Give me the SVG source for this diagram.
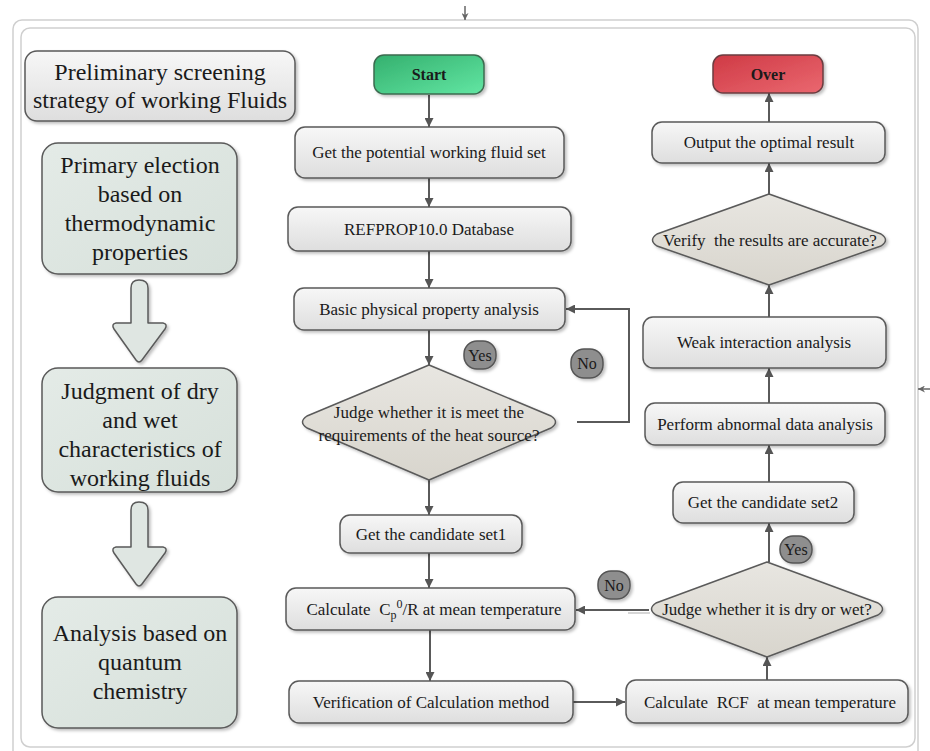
<svg xmlns="http://www.w3.org/2000/svg" width="930" height="751" viewBox="0 0 930 751">
<defs>
<linearGradient id="gBox" x1="0" y1="0" x2="0" y2="1"><stop offset="0" stop-color="#f7f7f7"/><stop offset="1" stop-color="#dedede"/></linearGradient>
<linearGradient id="gDia" x1="0" y1="0" x2="0" y2="1"><stop offset="0" stop-color="#e8e6e1"/><stop offset="1" stop-color="#d8d5cd"/></linearGradient>
<linearGradient id="gLeft" x1="0" y1="0" x2="1" y2="1"><stop offset="0" stop-color="#e4ebe7"/><stop offset="1" stop-color="#d6e0da"/></linearGradient>
<linearGradient id="gStart" x1="0" y1="0" x2="1" y2="1"><stop offset="0" stop-color="#34b06e"/><stop offset="1" stop-color="#62e6a3"/></linearGradient>
<linearGradient id="gOver" x1="0" y1="0" x2="1" y2="1"><stop offset="0" stop-color="#cf3a45"/><stop offset="1" stop-color="#ea6870"/></linearGradient>
<filter id="sh" x="-10%" y="-10%" width="125%" height="130%"><feDropShadow dx="2" dy="2" stdDeviation="1.5" flood-color="#000" flood-opacity="0.25"/></filter>
<marker id="ah" viewBox="0 0 10 10" refX="10" refY="5" markerWidth="9" markerHeight="9" markerUnits="userSpaceOnUse" orient="auto"><path d="M0,0 L10,5 L0,10 Z" fill="#555"/></marker>
<marker id="ahs" viewBox="0 0 10 10" refX="10" refY="5" markerWidth="7" markerHeight="7" markerUnits="userSpaceOnUse" orient="auto"><path d="M0,0 L10,5 L0,10 L3,5 Z" fill="#666"/></marker>
</defs>
<style>
.box{fill:url(#gBox);stroke:#5a5a5a;stroke-width:1.5;filter:url(#sh)}
.dia{fill:url(#gDia);stroke:#5a5a5a;stroke-width:1.5;stroke-linejoin:round;filter:url(#sh)}
.lbox{fill:url(#gLeft);stroke:#5a5a5a;stroke-width:1.5;filter:url(#sh)}
.harrow{fill:#dfe6e2;stroke:#5a5a5a;stroke-width:1.5;stroke-linejoin:round;filter:url(#sh)}
.bub{fill:#8e8e8e;stroke:#555;stroke-width:1.5;filter:url(#sh)}
.t{font-family:"Liberation Serif","Times New Roman",serif;fill:#1a1a1a;text-anchor:middle}
.m{font-size:17px}
.l{font-size:24px}
.b{font-size:16px;font-weight:bold}
.bt{font-size:16px}
.con{fill:none;stroke:#5a5a5a;stroke-width:2;marker-end:url(#ah)}
.frame{fill:none;stroke:#cfcfcf;stroke-width:1.5}
</style>
<rect width="930" height="751" fill="#ffffff"/>
<g id="frame">
<rect class="frame" x="13" y="20" width="905" height="740" rx="9"/>
<rect class="frame" x="21" y="28" width="894" height="719" rx="9"/>
<line x1="465" y1="6" x2="465" y2="20" stroke="#666" stroke-width="1.5" marker-end="url(#ahs)"/>
<line x1="930" y1="389" x2="918" y2="389" stroke="#666" stroke-width="1.5" marker-end="url(#ahs)"/>
</g>

<g id="title">
<rect class="box" x="25" y="51" width="270" height="70" rx="12"/>
<text class="t l" x="160" y="80">Preliminary screening</text>
<text class="t l" x="160" y="108">strategy of working Fluids</text>
</g>

<g id="primary">
<rect class="lbox" x="42" y="143" width="195" height="131" rx="16"/>
<text class="t l" x="140" y="173">Primary election</text>
<text class="t l" x="140" y="202">based on</text>
<text class="t l" x="140" y="231">thermodynamic</text>
<text class="t l" x="140" y="260">properties</text>
</g>
<g id="harrow1">
<path class="harrow" d="M131,288 Q131,280 139,280 Q148,280 148,288 L148,323 L163,323 Q168,324 165,329 L142,360 Q139,364 136,360 L114,329 Q111,324 116,323 L131,323 Z"/>
</g>
<g id="judgment">
<rect class="lbox" x="42" y="368" width="195" height="124" rx="16"/>
<text class="t l" x="140" y="399">Judgment of dry</text>
<text class="t l" x="140" y="428">and wet</text>
<text class="t l" x="140" y="457">characteristics of</text>
<text class="t l" x="140" y="486">working fluids</text>
</g>
<g id="harrow2">
<path class="harrow" d="M131,510 Q131,502 139,502 Q148,502 148,510 L148,547 L163,547 Q168,548 165,553 L142,584 Q139,588 136,584 L114,553 Q111,548 116,547 L131,547 Z"/>
</g>
<g id="analysis">
<rect class="lbox" x="42" y="597" width="195" height="131" rx="16"/>
<text class="t l" x="140" y="641">Analysis based on</text>
<text class="t l" x="140" y="670">quantum</text>
<text class="t l" x="140" y="699">chemistry</text>
</g>

<g id="connectors">
<line class="con" x1="429" y1="95" x2="429" y2="127"/>
<line class="con" x1="429" y1="178" x2="429" y2="207"/>
<line class="con" x1="429" y1="251" x2="429" y2="288"/>
<line class="con" x1="429" y1="330" x2="429" y2="365"/>
<polyline class="con" points="577,422 629,422 629,309 566,309"/>
<line class="con" x1="429" y1="480" x2="429" y2="515"/>
<line class="con" x1="429" y1="553" x2="429" y2="588"/>
<line class="con" x1="430" y1="630" x2="430" y2="681"/>
<line class="con" x1="573" y1="702" x2="625" y2="702"/>
<line class="con" x1="767" y1="680" x2="767" y2="657"/>
<line class="con" x1="649" y1="610" x2="576" y2="610"/>
<line x1="628" y1="613" x2="650" y2="613" stroke="#c8c8c8" stroke-width="1.5"/>
<line class="con" x1="769" y1="562" x2="769" y2="523"/>
<line class="con" x1="769" y1="482" x2="769" y2="445"/>
<line class="con" x1="769" y1="403" x2="769" y2="368"/>
<line class="con" x1="769" y1="317" x2="769" y2="285"/>
<line class="con" x1="769" y1="194" x2="769" y2="163"/>
<line class="con" x1="769" y1="122" x2="769" y2="93"/>
</g>

<g id="start">
<rect x="374" y="55" width="110" height="39" rx="10" fill="url(#gStart)" stroke="#3c6b50" stroke-width="1.5" filter="url(#sh)"/>
<text class="t b" x="429" y="80">Start</text>
</g>
<g id="getset">
<rect class="box" x="295" y="127" width="269" height="51" rx="10"/>
<text class="t m" x="429" y="158">Get the potential working fluid set</text>
</g>
<g id="refprop">
<rect class="box" x="288" y="207" width="283" height="44" rx="10"/>
<text class="t m" x="429" y="235">REFPROP10.0 Database</text>
</g>
<g id="basic">
<rect class="box" x="294" y="288" width="271" height="42" rx="10"/>
<text class="t m" x="429" y="315">Basic physical property analysis</text>
</g>
<g id="judge1">
<path class="dia" d="M429,365 L551,416 Q560,422 551,428 L429,480 L307,428 Q298,422 307,416 Z"/>
<text class="t m" x="429" y="418">Judge whether it is meet the</text>
<text class="t m" x="429" y="441">requirements of the heat source?</text>
</g>
<g id="yes1">
<rect class="bub" x="464" y="341" width="32" height="28" rx="13"/>
<text class="t bt" x="480" y="361">Yes</text>
</g>
<g id="no1">
<rect class="bub" x="571" y="349" width="32" height="29" rx="13"/>
<text class="t bt" x="587" y="369">No</text>
</g>
<g id="cand1">
<rect class="box" x="340" y="515" width="182" height="38" rx="10"/>
<text class="t m" x="431" y="540">Get the candidate set1</text>
</g>
<g id="calccp">
<rect class="box" x="286" y="588" width="289" height="42" rx="10"/>
<text class="t m" x="434" y="615" xml:space="preserve">Calculate  C<tspan font-size="12" dy="4">p</tspan><tspan font-size="12" dy="-11">0</tspan><tspan dy="7">/R at mean temperature</tspan></text>
</g>
<g id="verif">
<rect class="box" x="289" y="681" width="284" height="42" rx="10"/>
<text class="t m" x="431" y="708">Verification of Calculation method</text>
</g>

<g id="over">
<rect x="713" y="55" width="110" height="38" rx="10" fill="url(#gOver)" stroke="#6b3c40" stroke-width="1.5" filter="url(#sh)"/>
<text class="t b" x="768" y="80">Over</text>
</g>
<g id="output">
<rect class="box" x="652" y="122" width="233" height="41" rx="10"/>
<text class="t m" x="769" y="148">Output the optimal result</text>
</g>
<g id="verify">
<path class="dia" d="M769,194 L881,234 Q890,240 881,246 L769,285 L657,246 Q648,240 657,234 Z"/>
<text class="t m" x="770" y="246" xml:space="preserve">Verify  the results are accurate?</text>
</g>
<g id="weak">
<rect class="box" x="643" y="317" width="243" height="51" rx="10"/>
<text class="t m" x="764" y="348">Weak interaction analysis</text>
</g>
<g id="perform">
<rect class="box" x="645" y="403" width="240" height="42" rx="10"/>
<text class="t m" x="765" y="430">Perform abnormal data analysis</text>
</g>
<g id="cand2">
<rect class="box" x="673" y="482" width="181" height="41" rx="10"/>
<text class="t m" x="763" y="508">Get the candidate set2</text>
</g>
<g id="yes2">
<rect class="bub" x="780" y="536" width="32" height="27" rx="13"/>
<text class="t bt" x="796" y="555">Yes</text>
</g>
<g id="judge2">
<path class="dia" d="M767,562 L878,603 Q887,609 878,615 L767,657 L656,615 Q647,609 656,603 Z"/>
<text class="t m" x="767" y="615">Judge whether it is dry or wet?</text>
</g>
<g id="no2">
<rect class="bub" x="598" y="571" width="32" height="28" rx="13"/>
<text class="t bt" x="614" y="591">No</text>
</g>
<g id="calcrcf">
<rect class="box" x="626" y="680" width="282" height="43" rx="10"/>
<text class="t m" x="770" y="708" xml:space="preserve">Calculate  RCF  at mean temperature</text>
</g>
</svg>
